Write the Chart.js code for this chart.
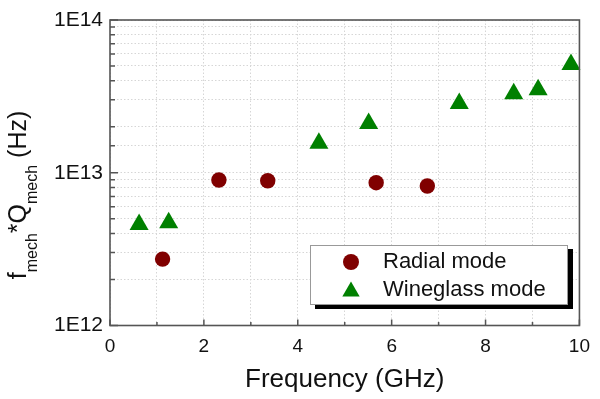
<!DOCTYPE html>
<html><head><meta charset="utf-8">
<script src="https://cdn.jsdelivr.net/npm/chart.js@4"></script>
<style>html,body{margin:0;padding:0;background:#fff;} #wrap{width:600px;height:399px;}</style>
</head><body><div id="wrap"><canvas id="c" width="600" height="399"></canvas></div>
<script>
// ---- data ----
const radialFreq = [1.12, 2.32, 3.36, 5.67, 6.76];
const radialFQ   = [2.72e12, 8.96e12, 8.87e12, 8.61e12, 8.19e12];
const wineFreq   = [0.62, 1.25, 4.45, 5.51, 7.44, 8.60, 9.12, 9.82];
const wineFQ     = [4.59e12, 4.71e12, 1.56e13, 2.10e13, 2.84e13, 3.29e13, 3.49e13, 5.12e13];
const xTickLabels = ['0', '2', '4', '6', '8', '10'];
const yTickLabels = ['1E12', '1E13', '1E14'];
const seriesNames = ['Radial mode', 'Wineglass mode'];
const xTitle = 'Frequency (GHz)';

const FONT = '"Liberation Sans", Arial, Helvetica, sans-serif';
const RED = '#800000', GREEN = '#008000';

function toPts(xs, ys) { return xs.map((x, i) => ({x: x, y: ys[i]})); }

function drawMarker(ctx, style, r, x, y, color) {
  ctx.save();
  ctx.fillStyle = color;
  ctx.beginPath();
  if (style === 'circle') {
    ctx.arc(x, y, r, 0, Math.PI * 2);
  } else {
    ctx.moveTo(x, y - r);
    ctx.lineTo(x + r * Math.sin(Math.PI * 2 / 3), y + r * 0.5);
    ctx.lineTo(x - r * Math.sin(Math.PI * 2 / 3), y + r * 0.5);
    ctx.closePath();
  }
  ctx.fill();
  ctx.restore();
}

const decorPlugin = {
  id: 'decor',
  afterDatasetsDraw(chart) {
    const ctx = chart.ctx, a = chart.chartArea;
    const xs = chart.scales.x, ys = chart.scales.y;
    ctx.save();
    // inward ticks
    ctx.strokeStyle = '#555';
    ctx.lineWidth = 1.5;
    ctx.beginPath();
    xs.ticks.forEach(t => {
      const px = xs.getPixelForValue(t.value);
      const len = (Math.round(t.value) % 2 === 0) ? 6 : 3.5;
      ctx.moveTo(px, a.bottom); ctx.lineTo(px, a.bottom - len);
    });
    ys.ticks.forEach(t => {
      const py = ys.getPixelForValue(t.value);
      const e = Math.log10(t.value);
      const len = (Math.abs(e - Math.round(e)) < 1e-9) ? 8 : 5;
      ctx.moveTo(a.left, py); ctx.lineTo(a.left + len, py);
    });
    ctx.stroke();
    // frame
    ctx.strokeStyle = '#555';
    ctx.lineWidth = 1.6;
    ctx.strokeRect(a.left, a.top, a.right - a.left, a.bottom - a.top);

    // legend box with shadow
    const L = 310, T = 245, R = 568, B = 305;
    ctx.fillStyle = '#000';
    ctx.fillRect(L + 5, T + 4, R - L, B - T);
    ctx.fillStyle = '#fff';
    ctx.fillRect(L, T, R - L, B - T);
    ctx.strokeStyle = '#999';
    ctx.lineWidth = 1;
    ctx.strokeRect(L + 0.5, T + 0.5, R - L - 1, B - T - 1);
    const rows = [262, 290];
    chart.data.datasets.forEach((ds, i) => {
      drawMarker(ctx, ds.pointStyle, ds.pointStyle === 'circle' ? 8 : 10, 351, rows[i] + (ds.pointStyle === 'circle' ? 0 : 1.5), ds.backgroundColor);
      ctx.fillStyle = '#111';
      ctx.font = '22px ' + FONT;
      ctx.textAlign = 'left';
      ctx.textBaseline = 'middle';
      ctx.fillText(ds.label, 383, rows[i]);
    });

    // y-axis title with subscripts, rotated
    const big = '25px ' + FONT, sub = '16px ' + FONT;
    const parts = [
      {t: 'f', f: big, dy: 0}, {t: 'mech', f: sub, dy: 11},
      {t: '*', f: big, dy: 0}, {t: 'Q', f: big, dy: 0},
      {t: 'mech', f: sub, dy: 11}, {t: ' (Hz)', f: big, dy: 0}
    ];
    let total = 0;
    parts.forEach(p => { ctx.font = p.f; p.w = ctx.measureText(p.t).width; total += p.w; });
    ctx.translate(26, 195);
    ctx.rotate(-Math.PI / 2);
    ctx.fillStyle = '#111';
    ctx.textAlign = 'left';
    ctx.textBaseline = 'alphabetic';
    let cx = -total / 2;
    parts.forEach(p => { ctx.font = p.f; ctx.fillText(p.t, cx, p.dy); cx += p.w; });
    ctx.restore();
  }
};

new Chart(document.getElementById('c'), {
  type: 'scatter',
  data: {
    datasets: [
      {label: seriesNames[0], data: toPts(radialFreq, radialFQ), pointStyle: 'circle',
       pointRadius: 7.7, pointHoverRadius: 7.7, backgroundColor: RED, borderColor: RED, borderWidth: 0, clip: false},
      {label: seriesNames[1], data: toPts(wineFreq, wineFQ), pointStyle: 'triangle',
       pointRadius: 11, pointHoverRadius: 11, backgroundColor: GREEN, borderColor: GREEN, borderWidth: 0, clip: false}
    ]
  },
  options: {
    responsive: false,
    animation: false,
    events: [],
    layout: {padding: {left: 0, right: 14, top: 20, bottom: 0}},
    plugins: {legend: {display: false}, tooltip: {enabled: false}},
    scales: {
      x: {
        type: 'linear', min: 0, max: 10,
        afterFit: s => { s.height = 73.5; },
        grid: {color: '#d6d6d6', lineWidth: 1, drawTicks: false},
        border: {display: false, dash: [1.5, 2]},
        ticks: {
          stepSize: 1, autoSkip: false, maxRotation: 0, padding: 10, color: '#111',
          font: {family: FONT, size: 19},
          callback: v => xTickLabels.includes(String(v)) ? String(v) : ''
        },
        title: {display: true, text: xTitle, color: '#111', font: {family: FONT, size: 26}, padding: {top: 0, bottom: 4}}
      },
      y: {
        type: 'logarithmic', min: 1e12, max: 1e14,
        afterFit: s => { s.width = 110; },
        grid: {color: '#d6d6d6', lineWidth: 1, drawTicks: false},
        border: {display: false, dash: [1.5, 2]},
        ticks: {
          autoSkip: false, padding: 7, color: '#111',
          font: {family: FONT, size: 21},
          callback: v => {
            const e = Math.log10(v);
            if (Math.abs(e - Math.round(e)) < 1e-9) {
              const lab = yTickLabels[Math.round(e) - 12];
              return lab === undefined ? '' : lab;
            }
            return '';
          }
        }
      }
    }
  },
  plugins: [decorPlugin]
});
</script>
</body></html>
